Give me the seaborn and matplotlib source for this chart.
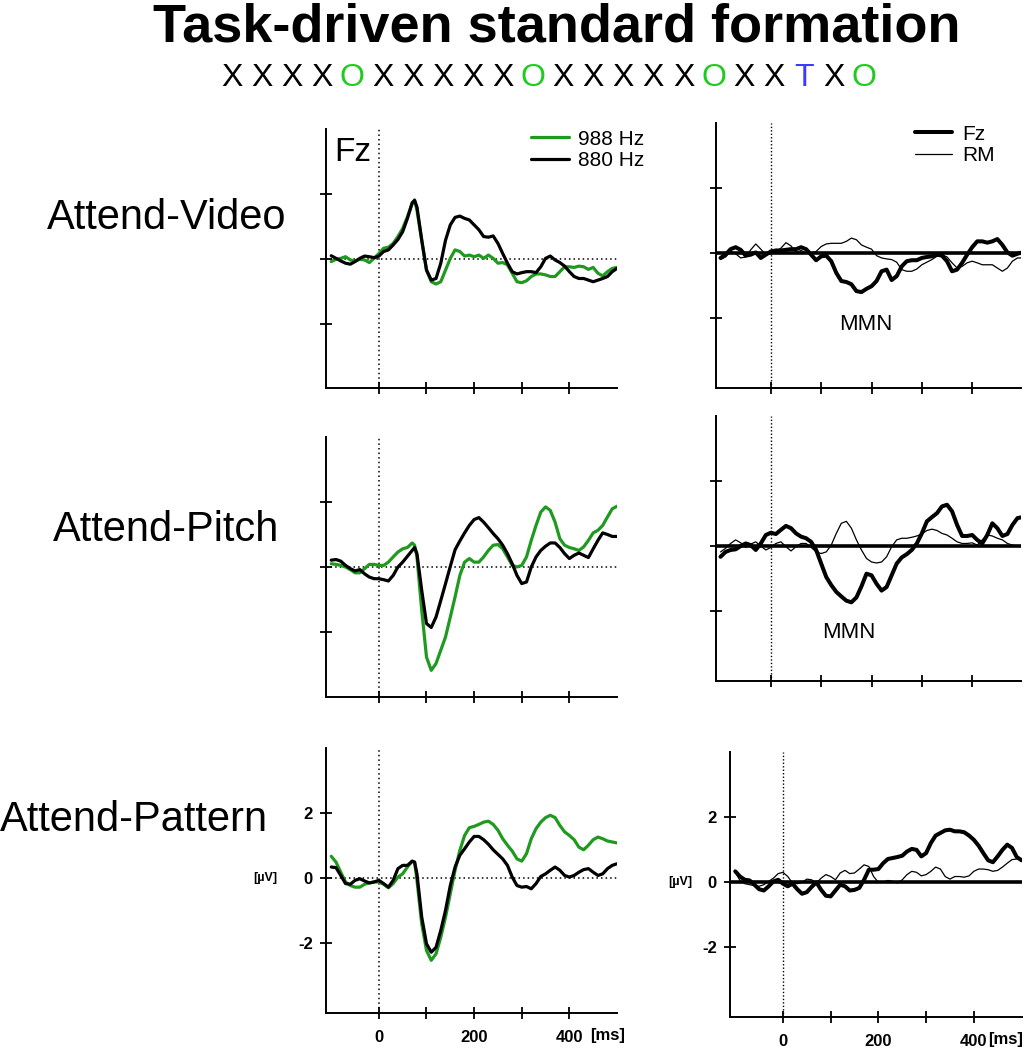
import pandas as pd
import matplotlib
matplotlib.use("Agg")
import matplotlib.pyplot as plt
import seaborn as sns

# ===== DATA =====
TITLE = "Task-driven standard formation"
SEQUENCE = list("XXXXOXXXXXOXXXXXOXXTXO")
CONDITIONS = ["Attend-Video", "Attend-Pitch", "Attend-Pattern"]

T_LEFT = sorted(list(range(-100, 510, 10)) + [75])  # ms
T_RIGHT = list(range(-100, 510, 10))                # ms

# left column: responses to the two tones at Fz (uV)
VIDEO_988 = [-0.08, -0.01, 0.02, 0.07, -0.03, -0.06, -0.01, -0.03, -0.11, 0.02,
             0.17, 0.33, 0.36, 0.48, 0.69, 0.94, 1.30, 1.71, 1.82,
             1.50, 0.58, -0.34, -0.70, -0.77, -0.70, -0.34, 0.02, 0.28, 0.23,
             0.09, 0.12, 0.07, 0.12, 0.02, 0.12, 0.02, -0.13, -0.11, -0.18,
             -0.44, -0.70, -0.73, -0.67, -0.54, -0.46, -0.46, -0.49, -0.54, -0.54,
             -0.39, -0.24, -0.24, -0.26, -0.22, -0.24, -0.32, -0.26, -0.44, -0.52,
             -0.39, -0.29, -0.26]
VIDEO_880 = [0.10, 0.02, -0.06, -0.13, -0.16, -0.08, 0.02, 0.09, 0.07, 0.04,
             0.09, 0.23, 0.28, 0.43, 0.60, 0.84, 1.25, 1.73, 1.80,
             1.60, 0.58, -0.34, -0.65, -0.60, -0.13, 0.58, 1.05, 1.28, 1.32,
             1.25, 1.20, 1.05, 0.90, 0.69, 0.67, 0.71, 0.48, 0.17, -0.13,
             -0.39, -0.46, -0.42, -0.39, -0.39, -0.42, -0.24, 0.02, 0.09, -0.03,
             -0.11, -0.22, -0.39, -0.54, -0.60, -0.60, -0.65, -0.70, -0.65, -0.60,
             -0.54, -0.39, -0.29]
PITCH_988 = [0.10, 0.08, 0.05, 0.00, -0.08, -0.18, -0.18, -0.05, 0.08, 0.08,
             0.05, 0.05, 0.15, 0.31, 0.46, 0.56, 0.60, 0.74, 0.67,
             0.31, -1.33, -2.77, -3.18, -2.97, -2.56, -2.15, -1.54, -0.92, -0.26,
             0.15, 0.26, 0.15, 0.15, 0.31, 0.51, 0.67, 0.69, 0.56, 0.31,
             0.05, 0.00, 0.05, 0.31, 0.82, 1.28, 1.69, 1.85, 1.74, 1.38,
             0.87, 0.67, 0.60, 0.56, 0.51, 0.62, 0.82, 1.05, 1.13, 1.28,
             1.54, 1.79, 1.87]
PITCH_880 = [0.21, 0.23, 0.18, 0.05, -0.05, -0.12, -0.08, -0.21, -0.31, -0.36,
             -0.36, -0.39, -0.43, -0.26, 0.00, 0.15, 0.33, 0.51, 0.60,
             0.41, -0.72, -1.74, -1.86, -1.54, -1.03, -0.51, 0.02, 0.53, 0.80,
             1.05, 1.28, 1.46, 1.52, 1.38, 1.21, 1.03, 0.87, 0.67, 0.41,
             0.10, -0.26, -0.51, -0.46, 0.00, 0.31, 0.51, 0.64, 0.74, 0.74,
             0.60, 0.41, 0.26, 0.36, 0.43, 0.36, 0.29, 0.56, 0.82, 1.05,
             1.00, 0.94, 0.94]
PATTERN_988 = [0.67, 0.49, 0.18, -0.12, -0.23, -0.28, -0.28, -0.19, -0.15, -0.12,
               -0.12, -0.19, -0.30, -0.17, 0.03, 0.13, 0.34, 0.52, 0.49,
               -0.07, -1.41, -2.23, -2.53, -2.33, -1.82, -1.20, -0.48, 0.24, 0.85,
               1.31, 1.55, 1.59, 1.65, 1.72, 1.75, 1.65, 1.47, 1.21, 1.01,
               0.83, 0.59, 0.52, 0.75, 1.21, 1.52, 1.72, 1.86, 1.93, 1.86,
               1.62, 1.42, 1.31, 1.18, 0.95, 0.87, 1.01, 1.18, 1.26, 1.21,
               1.14, 1.11, 1.08]
PATTERN_880 = [0.34, 0.32, 0.08, -0.17, -0.19, -0.07, -0.02, -0.09, -0.15, -0.12,
               -0.07, -0.17, -0.28, -0.07, 0.29, 0.39, 0.39, 0.52, 0.49,
               0.13, -1.20, -2.02, -2.28, -2.13, -1.61, -0.99, -0.23, 0.34, 0.70,
               0.90, 1.11, 1.28, 1.28, 1.18, 1.04, 0.87, 0.73, 0.59, 0.39,
               0.03, -0.23, -0.28, -0.26, -0.33, -0.17, 0.05, 0.13, 0.24, 0.34,
               0.24, 0.08, 0.03, 0.08, 0.18, 0.26, 0.29, 0.18, 0.08, 0.13,
               0.29, 0.39, 0.44]

# right column: difference waves at Fz and right mastoid (uV)
VIDEO_FZ = [-0.15, -0.05, 0.12, 0.18, 0.10, -0.08, -0.05, 0.02, -0.15, -0.05,
            0.05, 0.08, 0.08, 0.10, 0.12, 0.12, 0.18, 0.12, -0.05, -0.22,
            -0.10, -0.08, -0.25, -0.61, -0.86, -0.89, -0.96, -1.17, -1.20, -1.10,
            -1.02, -0.86, -0.56, -0.51, -0.83, -0.71, -0.41, -0.25, -0.22, -0.22,
            -0.15, -0.12, -0.10, -0.05, -0.08, -0.25, -0.56, -0.51, -0.30, -0.05,
            0.18, 0.36, 0.36, 0.32, 0.36, 0.43, 0.25, 0.02, -0.08, -0.02,
            0.02]
VIDEO_RM = [-0.20, -0.12, 0.05, -0.02, -0.15, -0.12, 0.10, 0.28, 0.12, -0.05,
            -0.02, 0.05, 0.15, 0.32, 0.22, 0.02, 0.08, 0.00, 0.00, 0.05,
            0.20, 0.28, 0.30, 0.30, 0.30, 0.36, 0.46, 0.41, 0.25, 0.18,
            0.12, -0.08, -0.15, -0.18, -0.20, -0.28, -0.51, -0.56, -0.56, -0.49,
            -0.36, -0.28, -0.20, -0.10, -0.05, -0.12, -0.30, -0.46, -0.41, -0.30,
            -0.25, -0.30, -0.36, -0.36, -0.36, -0.46, -0.56, -0.46, -0.25, -0.15,
            -0.15]
PITCH_FZ = [-0.33, -0.18, -0.12, -0.10, 0.00, 0.08, 0.03, -0.12, 0.08, 0.34,
            0.41, 0.37, 0.50, 0.62, 0.55, 0.39, 0.29, 0.24, 0.13, -0.12,
            -0.54, -0.95, -1.20, -1.41, -1.55, -1.68, -1.73, -1.58, -1.24, -0.85,
            -0.90, -1.16, -1.37, -1.26, -0.90, -0.54, -0.35, -0.25, -0.12, 0.08,
            0.39, 0.76, 0.89, 1.01, 1.22, 1.27, 1.07, 0.65, 0.31, 0.31,
            0.34, 0.19, 0.08, 0.34, 0.70, 0.55, 0.31, 0.37, 0.65, 0.86,
            0.89]
PITCH_RM = [-0.18, -0.07, 0.08, 0.19, 0.10, -0.04, 0.06, 0.13, 0.00, -0.12,
            -0.04, 0.08, 0.13, -0.02, -0.15, -0.02, 0.08, 0.08, -0.04, -0.18,
            -0.23, -0.18, 0.03, 0.39, 0.70, 0.76, 0.55, 0.19, -0.12, -0.38,
            -0.49, -0.52, -0.49, -0.33, -0.02, 0.19, 0.24, 0.24, 0.27, 0.31,
            0.37, 0.48, 0.52, 0.48, 0.39, 0.34, 0.24, 0.13, 0.08, 0.08,
            0.10, 0.03, 0.19, 0.34, 0.31, 0.24, 0.19, 0.08, 0.03, 0.00,
            0.00]
PATTERN_FZ = [0.33, 0.17, 0.07, 0.05, -0.08, -0.22, -0.26, -0.13, 0.02, 0.07,
              -0.05, -0.13, -0.05, -0.22, -0.36, -0.31, -0.15, -0.01, -0.24, -0.42,
              -0.44, -0.26, -0.08, -0.13, -0.26, -0.24, -0.18, 0.07, 0.38, 0.38,
              0.40, 0.58, 0.71, 0.74, 0.77, 0.81, 0.94, 1.02, 0.99, 0.79,
              0.89, 1.20, 1.43, 1.51, 1.59, 1.61, 1.56, 1.56, 1.53, 1.43,
              1.30, 1.12, 0.89, 0.67, 0.61, 0.79, 0.99, 1.15, 1.05, 0.77,
              0.67]
PATTERN_RM = [0.30, 0.05, -0.05, -0.08, -0.11, -0.13, -0.08, 0.02, 0.12, 0.26,
              0.30, 0.17, -0.03, -0.05, -0.01, 0.09, 0.07, -0.03, 0.12, 0.23,
              0.17, 0.07, 0.28, 0.36, 0.26, 0.28, 0.40, 0.53, 0.48, 0.17,
              -0.01, -0.01, 0.05, 0.02, -0.03, 0.07, 0.23, 0.33, 0.30, 0.19,
              0.23, 0.33, 0.46, 0.40, 0.17, 0.09, 0.17, 0.17, 0.15, 0.19,
              0.33, 0.40, 0.40, 0.38, 0.33, 0.36, 0.46, 0.58, 0.69, 0.71,
              0.69]

LEFT_DATA = [(VIDEO_988, VIDEO_880), (PITCH_988, PITCH_880), (PATTERN_988, PATTERN_880)]
RIGHT_DATA = [(VIDEO_FZ, VIDEO_RM), (PITCH_FZ, PITCH_RM), (PATTERN_FZ, PATTERN_RM)]
# ================

GREEN = "#1f9a1f"
W, H = 1034, 1050

sns.set_style("ticks")
plt.rcParams['font.family'] = ['Liberation Sans', 'DejaVu Sans']
plt.rcParams.update({"text.color": "black", "axes.labelcolor": "black",
                     "xtick.color": "black", "ytick.color": "black",
                     "axes.edgecolor": "black"})

fig = plt.figure(figsize=(W / 100, H / 100), dpi=100)


def box(x0, x1, ytop, ybot):
    return [x0 / W, 1 - ybot / H, (x1 - x0) / W, (ybot - ytop) / H]


# (x0, x1, ytop, ybot, xlim, ymin) in pixels
LEFT_POS = [(326, 617, 129, 388, (-111, 500), -3.97),
            (326, 617, 437, 697, (-111, 500), -4.0),
            (326, 617, 748, 1013, (-111, 500), -4.15)]
RIGHT_POS = [(716, 1021, 123, 388, (-109, 497), -4.15),
             (716, 1021, 416, 681, (-109, 497), -4.15),
             (730, 1022, 752, 1017, (-111, 501), -4.15)]


def style_axis(ax, xlim, ymin, bottom_row):
    ax.set_xlim(*xlim)
    ax.set_ylim(ymin, 4)
    sns.despine(ax=ax)
    for s in ["left", "bottom"]:
        ax.spines[s].set_linewidth(1.4)
    ax.set_xticks([0, 100, 200, 300, 400])
    ax.set_yticks([-2, 0, 2])
    ax.tick_params(direction="inout", length=9, width=1.3, labelsize=12, pad=5)
    if bottom_row:
        ax.set_xticklabels(["0", "", "200", "", "400"], fontweight="bold")
        ax.set_yticklabels(["-2", "0", "2"], fontweight="bold")
        ax.tick_params(axis="x", pad=8)
    else:
        ax.set_xticklabels([])
        ax.set_yticklabels([])
    ax.set_xlabel("")
    ax.set_ylabel("")


legend_kw = dict(frameon=False, loc="upper left", fontsize=15, handlelength=1.8,
                 handletextpad=0.45, labelspacing=0.12, borderaxespad=0)

for i in range(3):
    # ---- left: tone ERPs ----
    x0, x1, yt, yb, xlim, ymin = LEFT_POS[i]
    ax = fig.add_axes(box(x0, x1, yt, yb))
    g, k = LEFT_DATA[i]
    ax.axhline(0, color="black", ls=(0, (1, 2)), lw=1.1)
    ax.axvline(0, color="black", ls=(0, (1, 2)), lw=1.1)
    sns.lineplot(x=T_LEFT, y=g, ax=ax, color=GREEN, lw=2.3, estimator=None,
                 label="988 Hz" if i == 0 else None, legend=False)
    sns.lineplot(x=T_LEFT, y=k, ax=ax, color="black", lw=2.3, estimator=None,
                 label="880 Hz" if i == 0 else None, legend=False)
    style_axis(ax, xlim, ymin, i == 2)
    if i == 0:
        ax.legend(bbox_to_anchor=(0.676, 1.03), **legend_kw)
        ax.text(0.03, 0.97, "Fz", transform=ax.transAxes, fontsize=24,
                ha="left", va="top")
    if i == 2:
        ax.text((590 - x0) / (x1 - x0), -0.085, "[ms]", transform=ax.transAxes,
                fontsize=12, fontweight="bold", ha="left", va="center")
        ax.text(-0.21, 0.0, "[\u00b5V]", transform=ax.get_yaxis_transform(),
                fontsize=9, fontweight="bold", ha="center", va="center")

    # ---- right: difference waves ----
    x0, x1, yt, yb, xlim, ymin = RIGHT_POS[i]
    ax = fig.add_axes(box(x0, x1, yt, yb))
    fz, rm = RIGHT_DATA[i]
    ax.axhline(0, color="black", lw=2.6)
    ax.axvline(0, color="black", ls=(0, (1, 1.5)), lw=1.0)
    sns.lineplot(x=T_RIGHT, y=fz, ax=ax, color="black", lw=2.9, estimator=None,
                 label="Fz" if i == 0 else None, legend=False)
    sns.lineplot(x=T_RIGHT, y=rm, ax=ax, color="black", lw=0.9, estimator=None,
                 label="RM" if i == 0 else None, legend=False)
    style_axis(ax, xlim, ymin, i == 2)
    if i == 0:
        ax.legend(bbox_to_anchor=(0.625, 1.025), **legend_kw)
    if i in (0, 1):
        ax.text(0.49 if i == 0 else 0.436, -2.2 if i == 0 else -2.65, "MMN",
                fontsize=16, ha="center", va="center",
                transform=ax.get_yaxis_transform())
    if i == 2:
        ax.text((988 - x0) / (x1 - x0), -0.085, "[ms]", transform=ax.transAxes,
                fontsize=12, fontweight="bold", ha="left", va="center")
        ax.text(-0.17, 0.0, "[\u00b5V]", transform=ax.get_yaxis_transform(),
                fontsize=9, fontweight="bold", ha="center", va="center")

# ---- titles and row labels ----
fig.text(557 / W, 1 - 42 / H, TITLE, fontsize=39, fontweight="bold",
         ha="center", va="baseline")
colors = {"X": "black", "O": "#1ecb1e", "T": "#3b3bff"}
for j, ch in enumerate(SEQUENCE):
    fig.text((232 + j * 30.1) / W, 1 - 86 / H, ch, fontsize=23,
             color=colors[ch], ha="center", va="baseline")

fig.text(167 / W, 1 - 218 / H, CONDITIONS[0], fontsize=30, ha="center", va="center")
fig.text(166 / W, 1 - 530 / H, CONDITIONS[1], fontsize=30, ha="center", va="center")
fig.text(134 / W, 1 - 820 / H, CONDITIONS[2], fontsize=30, ha="center", va="center")

fig.savefig("out.png", dpi=100)
